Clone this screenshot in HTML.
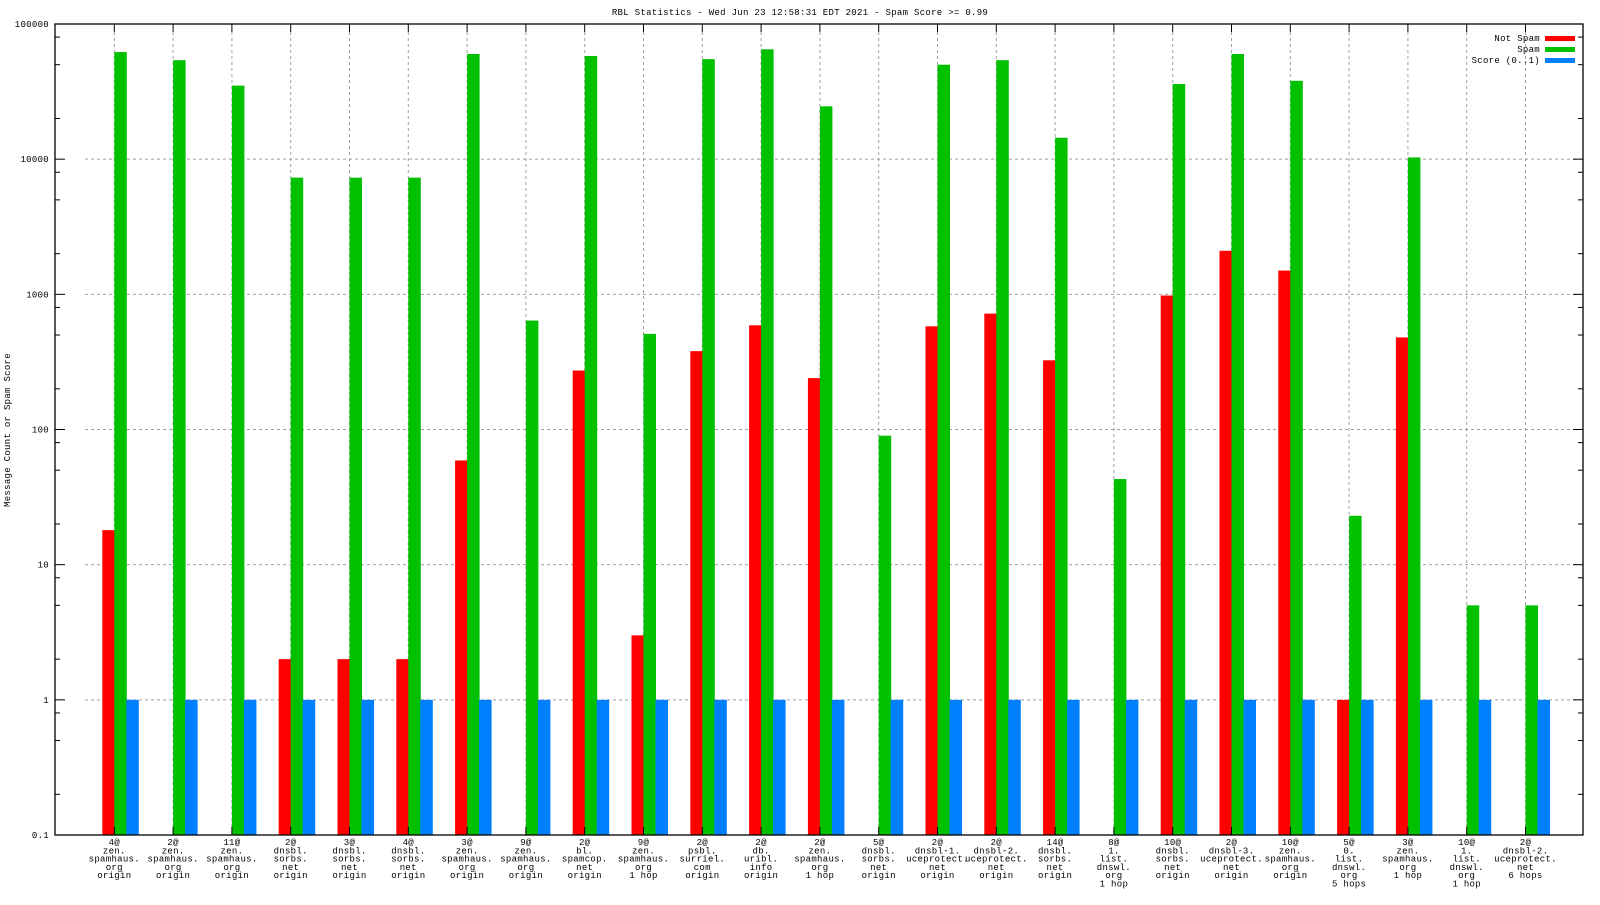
<!DOCTYPE html>
<html><head><meta charset="utf-8"><style>
html,body{margin:0;padding:0;background:#fff;}
svg text{font-family:"Liberation Mono","DejaVu Sans Mono",monospace;font-size:9px;font-weight:normal;letter-spacing:0.3px;fill:#000;}
</style></head><body>
<svg id="chart" width="1600" height="900" xmlns="http://www.w3.org/2000/svg">
<text x="800" y="15" text-anchor="middle">RBL Statistics - Wed Jun 23 12:58:31 EDT 2021 - Spam Score &gt;= 0.99</text>
<text transform="translate(10,430) rotate(-90)" text-anchor="middle">Message Count or Spam Score</text>
<g id="grid"></g><g id="bars"></g><g id="axes"></g><g id="labels"></g>
<g>
<text x="1540" y="41" text-anchor="end">Not Spam</text>
<rect x="1545" y="36" width="30" height="5" fill="#ff0000"/>
<text x="1540" y="52" text-anchor="end">Spam</text>
<rect x="1545" y="47" width="30" height="5" fill="#00c000"/>
<text x="1540" y="63" text-anchor="end">Score (0..1)</text>
<rect x="1545" y="58" width="30" height="5" fill="#0080ff"/>
</g>
</svg>
<script>
const categories = [
["4@","zen.","spamhaus.","org","origin"],["2@","zen.","spamhaus.","org","origin"],["11@","zen.","spamhaus.","org","origin"],
["2@","dnsbl.","sorbs.","net","origin"],["3@","dnsbl.","sorbs.","net","origin"],["4@","dnsbl.","sorbs.","net","origin"],
["3@","zen.","spamhaus.","org","origin"],["9@","zen.","spamhaus.","org","origin"],["2@","bl.","spamcop.","net","origin"],
["9@","zen.","spamhaus.","org","1 hop"],["2@","psbl.","surriel.","com","origin"],["2@","db.","uribl.","info","origin"],
["2@","zen.","spamhaus.","org","1 hop"],["5@","dnsbl.","sorbs.","net","origin"],["2@","dnsbl-1.","uceprotect.","net","origin"],
["2@","dnsbl-2.","uceprotect.","net","origin"],["14@","dnsbl.","sorbs.","net","origin"],["8@","1.","list.","dnswl.","org","1 hop"],
["10@","dnsbl.","sorbs.","net","origin"],["2@","dnsbl-3.","uceprotect.","net","origin"],["10@","zen.","spamhaus.","org","origin"],
["5@","0.","list.","dnswl.","org","5 hops"],["3@","zen.","spamhaus.","org","1 hop"],["10@","1.","list.","dnswl.","org","1 hop"],
["2@","dnsbl-2.","uceprotect.","net","6 hops"]];
const notSpam = [18,0,0,2,2,2,59,0,273,3,380,590,240,0,580,720,325,0,980,2100,1500,1,480,0,0];
const spam = [62000,54000,35000,7300,7300,7300,60000,640,58000,510,55000,65000,24600,90,50000,54000,14400,43,36000,60000,38000,23,10300,5,5];
const score = [1,1,1,1,1,1,1,1,1,1,1,1,1,1,1,1,1,1,1,1,1,1,1,1,1];
const yTicks = [0.1,1,10,100,1000,10000,100000];
const yTickLabels = ["0.1","1","10","100","1000","10000","100000"];

const L=55,R=1583,T=24,B=835,ymin=0.1,ymax=100000;
const NS="http://www.w3.org/2000/svg";
function y(v){return B-(Math.log10(v)-Math.log10(ymin))/(Math.log10(ymax)-Math.log10(ymin))*(B-T);}
function xt(i){return 114.3+i*58.8;}
function mk(tag,at,parent){const e=document.createElementNS(NS,tag);for(const k in at)e.setAttribute(k,at[k]);document.getElementById(parent).appendChild(e);return e;}
yTicks.forEach((v,i)=>{ if(i>0&&i<yTicks.length-1){
 const g=mk('line',{x1:L+30,x2:R-4,y1:y(v),y2:y(v),stroke:'#a0a0a0','stroke-dasharray':'3,3'},'grid');
 
 }});
categories.forEach((c,i)=>{
 const g=mk('line',{x1:xt(i),x2:xt(i),y1:T+8,y2:B,stroke:'#a0a0a0','stroke-dasharray':'3,3'},'grid');
 
 });
const series=[[notSpam,'#ff0000',-12,'bar-not-spam'],[spam,'#00c000',0,'bar-spam'],[score,'#0080ff',12,'bar-score']];
series.forEach(s=>{s[0].forEach((v,i)=>{ if(v>0){
 const r=mk('rect',{x:xt(i)+s[2],y:y(v),width:12.5,height:B-y(v),fill:s[1]},'bars');
 
 }});});
const fr=mk('rect',{x:L,y:T,width:R-L,height:B-T,fill:'none',stroke:'#000','stroke-width':1.3},'axes');


yTicks.forEach((v,i)=>{
 mk('line',{x1:L,x2:L+10,y1:y(v),y2:y(v),stroke:'#000'},'axes');
 mk('line',{x1:R-10,x2:R,y1:y(v),y2:y(v),stroke:'#000'},'axes');
 const t=mk('text',{x:L-6,y:y(v)+3,'text-anchor':'end'},'axes');
 t.textContent=yTickLabels[i];
 
 
 if(i<yTicks.length-1){[2,5,8].forEach(m=>{const yy=y(v*m);
  mk('line',{x1:L,x2:L+5,y1:yy,y2:yy,stroke:'#000'},'axes');
  mk('line',{x1:R-5,x2:R,y1:yy,y2:yy,stroke:'#000'},'axes');});}
});
categories.forEach((c,i)=>{
 mk('line',{x1:xt(i),x2:xt(i),y1:T,y2:T+8,stroke:'#000'},'axes');
 mk('line',{x1:xt(i),x2:xt(i),y1:B-8,y2:B,stroke:'#000'},'axes');
 c.forEach((s,j)=>{const t=mk('text',{x:xt(i),y:B+10+j*8.3,'text-anchor':'middle'},'labels');
  t.textContent=s;
  
  });
});
</script>
</body></html>
